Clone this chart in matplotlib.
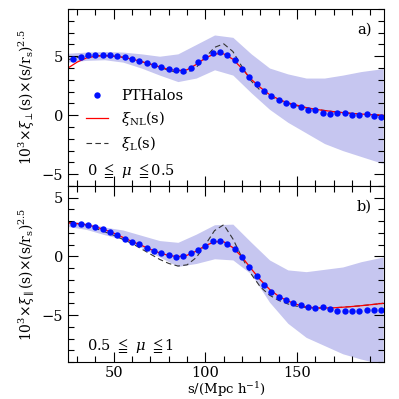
import numpy as np
import matplotlib
matplotlib.use("Agg")
import matplotlib.pyplot as plt
from matplotlib.ticker import MultipleLocator

plt.rcParams['font.family'] = ['DejaVu Serif', 'DejaVu Sans']
plt.rcParams['mathtext.fontset'] = 'dejavuserif'

# PTHalos points
s_pts = np.arange(28, 197, 4)
perp_pts = [4.77, 4.97, 5.09, 5.14, 5.14, 5.11, 5.03, 4.94, 4.77, 4.60, 4.43, 4.26, 4.09, 3.90,
            3.84, 3.78, 4.04, 4.55, 4.92, 5.26, 5.35, 5.12, 4.65, 3.95, 3.21, 2.63, 2.07, 1.65,
            1.30, 1.05, 0.88, 0.71, 0.43, 0.40, 0.23, 0.14, 0.17, 0.20, 0.06, 0.00, 0.09, -0.06, -0.17]
par_pts = [2.80, 2.74, 2.68, 2.51, 2.31, 2.08, 1.86, 1.52, 1.27, 1.04, 0.70, 0.47, 0.25, 0.08,
           -0.03, 0.03, 0.25, 0.53, 0.93, 1.30, 1.32, 1.04, 0.59, -0.08, -0.93, -1.67, -2.46, -3.03,
           -3.42, -3.70, -3.98, -4.13, -4.27, -4.41, -4.27, -4.49, -4.64, -4.64, -4.69, -4.61, -4.55, -4.55, -4.55]

# model curves
s_mod = [25, 30, 35, 40, 45, 50, 55, 60, 65, 70, 75, 80, 85, 90, 95, 100, 105, 110, 115, 120,
         125, 130, 135, 140, 145, 150, 155, 160, 165, 170, 175, 180, 185, 190, 197]
perp_nl = [4.00, 4.50, 4.85, 5.00, 5.05, 5.00, 4.92, 4.75, 4.55, 4.33, 4.10, 3.88, 3.78, 3.85, 4.30,
           4.85, 5.20, 5.20, 4.75, 3.95, 3.05, 2.35, 1.75, 1.35, 1.05, 0.85, 0.65, 0.50, 0.40, 0.30,
           0.22, 0.15, 0.10, 0.05, 0.00]
perp_lin = [4.70, 4.90, 5.00, 5.05, 5.05, 5.00, 4.90, 4.75, 4.55, 4.33, 4.08, 3.80, 3.60, 3.60, 4.05,
            4.90, 5.75, 6.05, 5.40, 4.10, 2.90, 2.10, 1.60, 1.25, 1.00, 0.80, 0.62, 0.50, 0.40, 0.30,
            0.22, 0.15, 0.10, 0.05, 0.00]
par_nl = [2.85, 2.80, 2.70, 2.52, 2.28, 1.98, 1.62, 1.27, 0.95, 0.60, 0.30, 0.08, -0.02, 0.10, 0.45,
          0.92, 1.25, 1.25, 0.75, -0.05, -1.05, -2.00, -2.80, -3.40, -3.80, -4.10, -4.30, -4.38, -4.40,
          -4.38, -4.33, -4.27, -4.20, -4.12, -4.00]
par_lin = [2.90, 2.80, 2.62, 2.40, 2.10, 1.80, 1.45, 1.10, 0.65, 0.20, -0.25, -0.60, -0.82, -0.72, -0.10,
           1.00, 2.20, 2.70, 1.50, -0.10, -1.50, -2.60, -3.30, -3.75, -4.05, -4.25, -4.35, -4.40, -4.40,
           -4.38, -4.33, -4.27, -4.20, -4.12, -4.00]

# scatter band
s_band = [25, 35, 45, 55, 65, 75, 85, 95, 105, 115, 125, 135, 145, 155, 165, 175, 185, 197]
perp_hi = [5.25, 5.35, 5.40, 5.35, 5.20, 5.00, 5.20, 6.00, 6.80, 6.60, 5.20, 4.00, 3.50, 3.15, 3.15, 3.40, 3.70, 3.95]
perp_lo = [4.50, 4.65, 4.70, 4.50, 4.00, 3.40, 2.85, 3.15, 3.85, 3.40, 1.90, 0.50, -0.60, -1.50, -2.40, -3.00, -3.50, -4.10]
par_hi = [3.05, 2.85, 2.50, 2.25, 1.80, 1.35, 1.20, 1.90, 2.70, 2.75, 1.20, -0.30, -1.15, -1.30, -1.10, -0.90, -0.45, -0.05]
par_lo = [2.55, 2.30, 1.85, 1.45, 0.75, -0.05, -0.85, -0.60, -0.20, -0.30, -1.50, -3.90, -5.70, -6.90, -7.60, -8.30, -8.75, -9.20]

fig = plt.figure(figsize=(3.99, 3.99), dpi=100)
ax1 = fig.add_axes([0.1704, 0.5338, 0.792, 0.4436])
ax2 = fig.add_axes([0.1704, 0.0927, 0.792, 0.4411])

band_col = '#c6c6f0'
panels = [(ax1, perp_pts, perp_nl, perp_lin, perp_hi, perp_lo, (-6, 9)),
          (ax2, par_pts, par_nl, par_lin, par_hi, par_lo, (-9, 6))]
for ax, pts, nl, lin, hi, lo, yl in panels:
    ax.fill_between(s_band, lo, hi, color=band_col, lw=0)
    ax.plot(s_mod, lin, color='#333333', lw=0.8, dashes=(5, 3), label=r'$\xi_{\rm L}$(s)')
    ax.plot(s_mod, nl, color='red', lw=0.9, label=r'$\xi_{\rm NL}$(s)')
    ax.plot(s_pts, pts, 'o', color='#0010ff', ms=4.6, mec='none', label='PTHalos')
    ax.set_xlim(25, 197.5)
    ax.set_ylim(*yl)
    ax.xaxis.set_major_locator(MultipleLocator(50))
    ax.xaxis.set_minor_locator(MultipleLocator(10))
    ax.yaxis.set_major_locator(MultipleLocator(5))
    ax.yaxis.set_minor_locator(MultipleLocator(1))
    ax.tick_params(which='both', direction='in', top=True, right=True, labelsize=10.5)
    ax.tick_params(which='major', length=7, width=0.8)
    ax.tick_params(which='minor', length=4, width=0.8)
    ax.tick_params(axis='x', pad=3)
    for sp in ax.spines.values():
        sp.set_linewidth(0.8)

ax1.tick_params(labelbottom=False)

h, l = ax1.get_legend_handles_labels()
ax1.legend([h[2], h[1], h[0]], [l[2], l[1], l[0]], loc='upper left', bbox_to_anchor=(0.04, 0.58),
           frameon=False, fontsize=10.5, handlelength=1.5, handletextpad=0.9, labelspacing=0.42,
           borderaxespad=0)
ax1.text(0.06, 0.065, r'0 $\leqq$ $\mu$ $\leqq$0.5', transform=ax1.transAxes, fontsize=10.5)
ax2.text(0.06, 0.07, r'0.5 $\leqq$ $\mu$ $\leqq$1', transform=ax2.transAxes, fontsize=10.5)
ax1.text(0.96, 0.86, 'a)', transform=ax1.transAxes, fontsize=10.5, ha='right')
ax2.text(0.96, 0.86, 'b)', transform=ax2.transAxes, fontsize=10.5, ha='right')

ax1.set_ylabel(r'10$^3$$\times$$\xi_\perp$(s)$\times$(s/r$_{\rm s}$)$^{2.5}$', fontsize=10, labelpad=3)
ax2.set_ylabel(r'10$^3$$\times$$\xi_\parallel$(s)$\times$(s/r$_{\rm s}$)$^{2.5}$', fontsize=10, labelpad=3)
ax2.set_xlabel(r's/(Mpc h$^{-1}$)', fontsize=9.5)
ax2.xaxis.set_label_coords(0.5, -0.1)

fig.savefig('out.png', dpi=100)
